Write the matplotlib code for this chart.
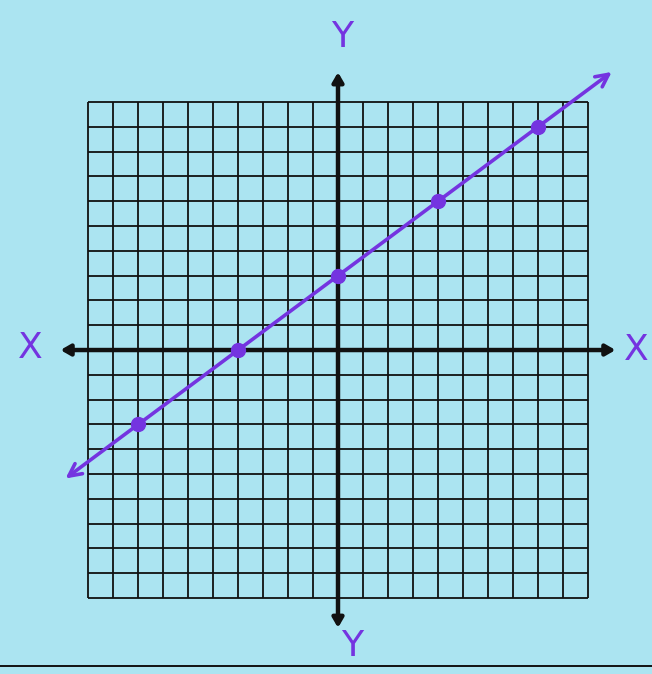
import numpy as np
import matplotlib
matplotlib.use('Agg')
import matplotlib.pyplot as plt

""" Data: y = 0.75 x + 3 """

grid_ticks = list(range(-10, 11))
point_x = [-8, -4, 0, 4, 8]
point_y = [-3, 0, 3, 6, 9]
line_x = [-10.9, 10.95]
line_y = [-5.18, 11.21]

paper = '#abe4f1'
purple = '#7434e0'
ink = '#111111'

fig = plt.figure(figsize=(6.52, 6.74), dpi=100, facecolor=paper)
ax = fig.add_axes([0, 0, 1, 1])
ax.set_facecolor(paper)
ax.set_xlim(-13.52, 12.56)
ax.set_ylim(-13.06, 14.11)
ax.axis('off')

""" Grid """

ax.vlines(grid_ticks, -10, 10, color=ink, linewidth=1.3, zorder=1)
ax.hlines(grid_ticks, -10, 10, color=ink, linewidth=1.3, zorder=1)

""" Axes with arrow heads """

axis_arrow = dict(arrowstyle='<|-|>,head_length=0.55,head_width=0.32',
                  color=ink, linewidth=3.2, shrinkA=0, shrinkB=0)
ax.annotate('', xy=(11.1, 0), xytext=(-11.1, 0), arrowprops=axis_arrow, zorder=2)
ax.annotate('', xy=(0, 11.2), xytext=(0, -11.2), arrowprops=axis_arrow, zorder=2)

""" Line with arrows and points """

line_arrow = dict(arrowstyle='<->,head_length=0.9,head_width=0.45',
                  color=purple, linewidth=2.6, shrinkA=0, shrinkB=0)
ax.annotate('', xy=(line_x[1], line_y[1]), xytext=(line_x[0], line_y[0]),
            arrowprops=line_arrow, zorder=3)
ax.plot(point_x, point_y, 'o', color=purple, markersize=10, zorder=4)

""" Labels """

label_style = dict(color=purple, fontsize=26, ha='center', va='center',
                   family='DejaVu Sans', fontweight='normal')
ax.text(-12.3, 0.1, 'X', **label_style)
ax.text(11.95, 0.0, 'X', **label_style)
ax.text(0.15, 12.6, 'Y', **label_style)
ax.text(0.55, -11.95, 'Y', **label_style)

ax.axhline(-12.72, color=ink, linewidth=1.4)

fig.savefig('out.png', dpi=100, facecolor=paper)
